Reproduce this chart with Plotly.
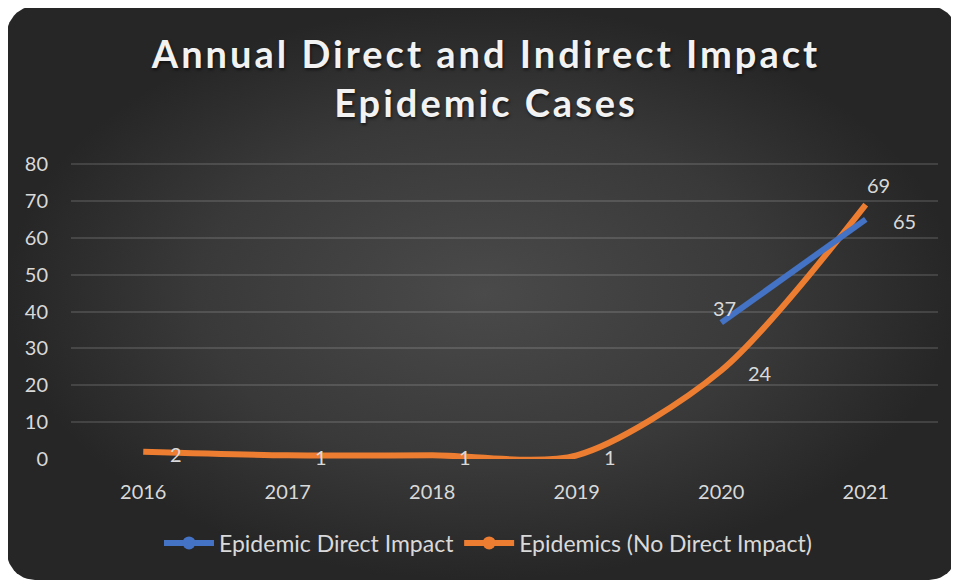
import plotly.graph_objects as go
import numpy as np

years = ["2016", "2017", "2018", "2019", "2020", "2021"]
direct_years = ["2020", "2021"]
direct_vals = [37, 65]
nodirect_vals = [2, 1, 1, 1, 24, 69]
direct_label_pos = ["above", "right"]
nodirect_label_pos = ["right", "right", "right", "right", "right", "above right"]
y_ticks = [0, 10, 20, 30, 40, 50, 60, 70, 80]

BLUE = "#4472C4"
ORANGE = "#ED7D31"
TXT = "#d9d9d9"
FONT = "Lato"
W, H = 959, 582
OFF = 8  # page body margin: screen px = paper px + OFF

def fx(s):
    return (s - OFF) / W

def fy(s):
    return 1 - (s - OFF) / H

def rounded_rect(x0, y0, x1, y1, r, n=12):
    xs, ys = [], []
    corners = [(x1 - r, y0 + r, -90, 0), (x1 - r, y1 - r, 0, 90),
               (x0 + r, y1 - r, 90, 180), (x0 + r, y0 + r, 180, 270)]
    for cx, cy, a0, a1 in corners:
        for a in np.linspace(np.radians(a0), np.radians(a1), n):
            xs.append(cx + r * np.cos(a))
            ys.append(cy + r * np.sin(a))
    xs.append(xs[0]); ys.append(ys[0])
    return xs, ys

bx, by = rounded_rect(7, 6, 957, 580, 28)

fig = go.Figure()
fig.add_trace(go.Scatter(
    x=bx, y=by, xaxis="x", yaxis="y", mode="lines", fill="toself",
    line=dict(width=0), fillgradient=dict(type="radial",
        colorscale=[[0, "#4a4a4a"], [0.6, "#393939"], [1, "#262626"]]),
    hoverinfo="skip", showlegend=False))

fig.add_trace(go.Scatter(
    x=years, y=nodirect_vals, xaxis="x2", yaxis="y2", mode="lines",
    line=dict(color=ORANGE, width=6, shape="spline", smoothing=0.8),
    showlegend=False, hoverinfo="skip"))
fig.add_trace(go.Scatter(
    x=direct_years, y=direct_vals, xaxis="x2", yaxis="y2", mode="lines",
    line=dict(color=BLUE, width=6), showlegend=False, hoverinfo="skip"))

fig.add_trace(go.Scatter(x=[None], y=[None], xaxis="x2", yaxis="y2",
    mode="lines+markers", name="Epidemic Direct Impact",
    line=dict(color=BLUE, width=6), marker=dict(color=BLUE, size=13)))
fig.add_trace(go.Scatter(x=[None], y=[None], xaxis="x2", yaxis="y2",
    mode="lines+markers", name="Epidemics (No Direct Impact)",
    line=dict(color=ORANGE, width=6), marker=dict(color=ORANGE, size=13)))

label_style = {
    "right": dict(xanchor="left", xshift=25, yshift=-2),
    "above": dict(xanchor="center", xshift=3, yshift=15),
    "above right": dict(xanchor="center", xshift=13, yshift=20),
}
annotations = []
def add_labels(xs, vals, poss):
    for x, v, p in zip(xs, vals, poss):
        annotations.append(dict(x=years.index(x), y=v, xref="x2", yref="y2",
            text=str(v), showarrow=False, yanchor="middle",
            font=dict(family=FONT, size=20, color=TXT), **label_style[p]))
add_labels(years, nodirect_vals, nodirect_label_pos)
add_labels(direct_years, direct_vals, direct_label_pos)

title_txt = ('<span style="letter-spacing:3px">Annual Direct and Indirect Impact</span>'
             '<br><span style="letter-spacing:3px">Epidemic Cases</span>')

fig.update_layout(
    width=W, height=H, margin=dict(l=0, r=0, t=0, b=0, autoexpand=False),
    paper_bgcolor="white", plot_bgcolor="rgba(0,0,0,0)",
    xaxis=dict(domain=[0, 1], range=[OFF, OFF + W], visible=False, fixedrange=True),
    yaxis=dict(domain=[0, 1], range=[OFF + H, OFF], visible=False, fixedrange=True),
    xaxis2=dict(domain=[fx(71), fx(938)], anchor="y2", type="category",
        categoryarray=years, range=[-0.5, 5.5], showgrid=False, zeroline=False,
        showline=False, ticks="outside", ticklen=15, tickcolor="rgba(0,0,0,0)",
        tickfont=dict(family=FONT, size=20, color=TXT)),
    yaxis2=dict(domain=[fy(459), fy(163)], anchor="x2", range=[0, 80.3], tickvals=y_ticks,
        showgrid=True, gridcolor="rgba(255,255,255,0.13)", gridwidth=1.5,
        zeroline=False, showline=False, ticks="outside", ticklen=18,
        tickcolor="rgba(0,0,0,0)", tickfont=dict(family=FONT, size=20, color=TXT)),
    title=dict(text=title_txt,
        x=fx(486), xanchor="center", y=fy(68), yanchor="middle",
        font=dict(family=FONT, size=38, color="#f2f2f2", weight=700,
                  shadow="1px 2px 3px rgba(0,0,0,0.55)")),
    legend=dict(orientation="h", x=fx(488), xanchor="center", y=fy(543),
        yanchor="middle", bgcolor="rgba(0,0,0,0)",
        font=dict(family=FONT, size=23, color=TXT), itemwidth=50),
    annotations=annotations,
)

fig.write_html("out.html")
